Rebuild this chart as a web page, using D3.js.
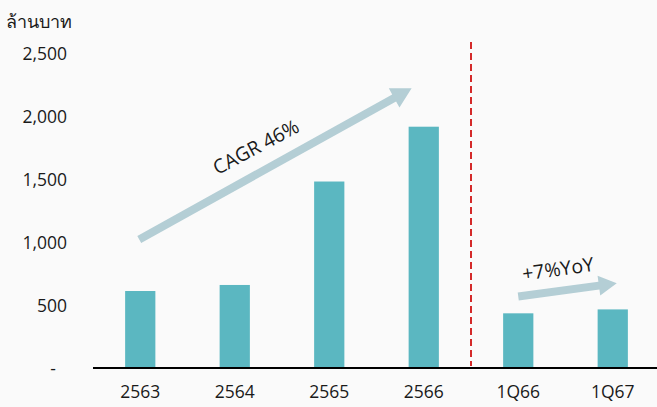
<!DOCTYPE html>
<html>
<head>
<meta charset="utf-8">
<script src="https://cdn.jsdelivr.net/npm/d3@7"></script>
<style>
  html, body { margin: 0; padding: 0; background: #fafafa; }
  svg { display: block; }
  text { font-family: "Open Sans", "Noto Sans", "DejaVu Sans", sans-serif; fill: #1a1a1a; }
</style>
</head>
<body>
<svg id="chart" width="657" height="407"></svg>
<script>
// Revenue (million baht), annual and first-quarter figures
const categories = ["2563", "2564", "2565", "2566", "1Q66", "1Q67"];
const revenue = [611, 659, 1480, 1915, 434, 465];
const yTicks = [0, 500, 1000, 1500, 2000, 2500];
const unitLabel = "ล้านบาท";
const cagrLabel = "CAGR 46%";
const yoyLabel = "+7%YoY";

const W = 657, H = 407;
const svg = d3.select("#chart");

svg.append("rect").attr("width", W).attr("height", H).attr("fill", "#fafafa");

const x = d3.scaleBand()
  .domain(categories)
  .range([93, 660])
  .paddingInner(0.68)
  .paddingOuter(0.34);

const y = d3.scaleLinear()
  .domain([0, 2500])
  .range([368, 53]);

// Bars
svg.append("g")
  .selectAll("rect")
  .data(categories)
  .join("rect")
  .attr("x", d => x(d))
  .attr("y", (d, i) => y(revenue[i]))
  .attr("width", x.bandwidth())
  .attr("height", (d, i) => y(0) - y(revenue[i]))
  .attr("fill", "#5bb7c1");

// Y axis labels (no line, no ticks)
const yAxis = d3.axisLeft(y)
  .tickValues(yTicks)
  .tickSize(0)
  .tickPadding(0)
  .tickFormat(v => v === 0 ? "-" : d3.format(",")(v));

const gy = svg.append("g")
  .attr("transform", "translate(67,0)")
  .call(yAxis);
gy.select(".domain").remove();
gy.selectAll("text")
  .attr("font-size", 17.5)
  .attr("fill", "#1a1a1a")
  .attr("dy", "0.35em")
  .attr("x", v => v === 0 ? -11 : 0);

// X axis
const xAxis = d3.axisBottom(x).tickSize(0).tickPadding(18);
const gx = svg.append("g")
  .attr("transform", `translate(0,${y(0)})`)
  .call(xAxis);
gx.select(".domain")
  .attr("d", `M93,0H660`)
  .attr("stroke", "#000")
  .attr("stroke-width", 2);
gx.selectAll("text")
  .attr("font-size", 17.5)
  .attr("fill", "#1a1a1a");

// Unit label
svg.append("text")
  .attr("x", 6)
  .attr("y", 28)
  .attr("font-size", 18)
  .text(unitLabel);

// Divider between annual and quarterly figures
const step = x.step();
const divX = x("2566") + x.bandwidth() + (step - x.bandwidth()) / 2;
svg.append("line")
  .attr("x1", divX).attr("x2", divX)
  .attr("y1", 42).attr("y2", y(0) - 2)
  .attr("stroke", "#d42a2a")
  .attr("stroke-width", 2)
  .attr("stroke-dasharray", "7,4");

// Growth arrow helper: flat shaft with triangular head
function arrow(x1, y1, x2, y2, shaft, headW, headL) {
  const dx = x2 - x1, dy = y2 - y1;
  const len = Math.hypot(dx, dy);
  const ang = Math.atan2(dy, dx) * 180 / Math.PI;
  const g = svg.append("g")
    .attr("transform", `translate(${x1},${y1}) rotate(${ang})`);
  const s = shaft / 2, h = headW / 2, b = len - headL;
  g.append("path")
    .attr("d", `M0,${-s}L${b},${-s}L${b},${-h}L${len},0L${b},${h}L${b},${s}L0,${s}Z`)
    .attr("fill", "#b4ced5");
}

const cx = c => x(c) + x.bandwidth() / 2;

arrow(cx("2563") - 1, y(1020), x("2566") + 3, y(2220), 8, 22, 20);
arrow(cx("1Q66"), y(568), cx("1Q67") + 4, y(673), 8, 20, 18);

svg.append("text")
  .attr("transform", "translate(256,147) rotate(-28)")
  .attr("text-anchor", "middle")
  .attr("dy", "0.35em")
  .attr("font-size", 19.5)
  .text(cagrLabel);

svg.append("text")
  .attr("transform", "translate(558,269) rotate(-8)")
  .attr("text-anchor", "middle")
  .attr("dy", "0.35em")
  .attr("font-size", 19.5)
  .text(yoyLabel);
</script>
</body>
</html>
